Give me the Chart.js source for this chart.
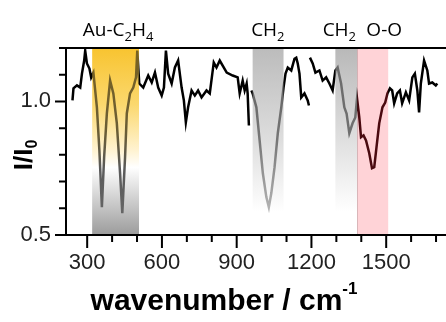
<!DOCTYPE html>
<html>
<head>
<meta charset="utf-8">
<script src="https://cdn.jsdelivr.net/npm/chart.js@4"></script>
<style>
    html, body { margin: 0; padding: 0; background: #fff; }
    #wrap { width: 446px; height: 322px; position: relative; }
</style>
</head>
<body>
<div id="wrap"><canvas id="spectrum"></canvas></div>
<script>
// ============================================
// DATA
// ============================================

const wavenumber = [241, 245, 259, 272, 279, 288, 292, 299, 309, 316, 325, 339, 349, 359, 368, 379, 392, 405, 419, 432, 441, 452, 459, 472, 485, 496, 501, 509, 525, 545, 559, 572, 585, 599, 608, 616, 625, 639, 652, 665, 679, 688, 696, 705, 719, 732, 745, 759, 779, 792, 808, 819, 832, 860, 884, 904, 912, 924, 932, 940, 944, 949, 952, 959, 964, 979, 992, 1005, 1019, 1029, 1039, 1052, 1065, 1079, 1088, 1096, 1105, 1119, 1132, 1139, 1145, 1152, 1159, 1172, 1185, 1190, 1192, 1194, 1205, 1216, 1232, 1245, 1259, 1272, 1285, 1296, 1305, 1319, 1332, 1341, 1352, 1365, 1376, 1383, 1392, 1399, 1409, 1419, 1432, 1443, 1452, 1461, 1472, 1485, 1496, 1505, 1515, 1524, 1532, 1544, 1555, 1564, 1579, 1592, 1605, 1615, 1625, 1632, 1639, 1652, 1665, 1672, 1685, 1699, 1705];

const intensity = [1.004, 1.049, 1.060, 1.052, 1.104, 1.153, 1.190, 1.142, 1.123, 1.090, 1.108, 0.978, 0.817, 0.604, 0.791, 0.955, 1.078, 1.030, 0.918, 0.731, 0.582, 0.791, 0.955, 1.030, 1.052, 1.090, 1.190, 1.067, 1.052, 1.097, 1.071, 1.108, 1.052, 1.022, 1.052, 1.190, 1.104, 1.067, 1.127, 1.153, 1.052, 1.004, 0.922, 0.978, 1.041, 1.022, 1.041, 1.015, 1.041, 1.030, 1.146, 1.127, 1.153, 1.108, 1.097, 1.090, 1.030, 1.078, 1.041, 1.067, 1.030, 0.910, null, 1.041, 1.030, 0.978, 0.854, 0.731, 0.642, 0.604, 0.657, 0.754, 0.881, 0.978, 1.052, 1.104, 1.127, 1.116, 1.160, 1.164, 1.142, 1.104, 1.015, 1.030, 1.004, 0.985, null, 1.164, 1.142, 1.108, 1.116, 1.078, 1.090, 1.067, 1.041, 1.116, 1.127, 1.067, 0.978, 0.955, 0.881, 0.918, 0.940, 1.011, 0.940, 0.866, 0.873, 0.854, 0.806, 0.750, 0.754, 0.828, 0.918, 0.978, 0.996, 1.030, 1.049, 1.041, 0.993, 1.030, 1.041, 0.993, 1.034, 1.004, 1.090, 1.104, 1.041, 0.959, 1.067, 1.153, 1.116, 1.067, 1.071, 1.060, 1.067];

// shaded regions (cm-1)
const bandStart = [320, 964, 1296, 1384];
const bandEnd = [508, 1088, 1384, 1508];

// assignment labels above the frame
const labelMain = ['Au-C', 'CH', 'CH', 'O-O'];
const labelSubs = [['2', 'H', '4'], ['2'], ['2'], []];
const labelAt = [424, 1025, 1312, 1492];

const xMin = 215, xMax = 1740;
const yMin = 0.5, yMax = 1.2;
const xTicks = [300, 400, 500, 600, 700, 800, 900, 1000, 1100, 1200, 1300, 1400, 1500, 1600, 1700];
const yTicks = [0.5, 0.6, 0.7, 0.8, 0.9, 1.0, 1.1, 1.2];
const xLabelled = [300, 600, 900, 1200, 1500];
const yLabelled = [0.5, 1.0];

// ============================================
// STYLES
// ============================================

const FONT = '"Liberation Sans", Arial, sans-serif';
const LABEL_FONT = '"Open Sans", sans-serif';

// fill behind the trace, and tint applied to the trace inside each band
const BAND_FILL = [
    [[0, '#f8c431'], [0.3, '#fbd86e'], [0.55, '#fff3d2'], [0.64, '#ffffff'], [0.7, '#eeeeee'], [1, '#9d9d9d']],
    [[0, '#bcbcbc'], [0.5, '#dedede'], [0.88, '#ffffff'], [1, '#ffffff']],
    [[0, '#b9b9b9'], [0.5, '#e0e0e0'], [0.88, '#ffffff'], [1, '#ffffff']],
    [[0, '#ffd3d7'], [1, '#ffd3d7']]
];
const BAND_LINE = [
    [[0, '#7a6320'], [0.45, '#6a5d35'], [0.65, '#5a5a5a'], [1, '#6a6a6a']],
    [[0, '#5a5a5a'], [0.5, '#777777'], [0.85, '#b0b0b0'], [1, '#c0c0c0']],
    [[0, '#6a6a6a'], [0.5, '#707070'], [1, '#909090']],
    [[0, '#4a0a10'], [1, '#4a0a10']]
];

function makeGradient(ctx, top, bottom, stops) {
    const g = ctx.createLinearGradient(0, top, 0, bottom);
    stops.forEach(s => g.addColorStop(s[0], s[1]));
    return g;
}

const near = (v, list) => list.some(t => Math.abs(v - t) < 1e-6);

// ============================================
// PLUGINS
// ============================================

const bandPlugin = {
    id: 'bands',
    afterDatasetsDraw(chart) {
        const { ctx, chartArea, scales } = chart;
        const top = chartArea.top + 1;
        const bottom = chartArea.bottom - 1;
        bandStart.forEach((start, i) => {
            const x0 = scales.x.getPixelForValue(start);
            const x1 = scales.x.getPixelForValue(bandEnd[i]);
            ctx.save();
            // recolour the trace where it runs through the band
            ctx.globalCompositeOperation = 'source-atop';
            ctx.fillStyle = makeGradient(ctx, top, bottom, BAND_LINE[i]);
            ctx.fillRect(x0, top, x1 - x0, bottom - top);
            // band fill goes underneath
            ctx.globalCompositeOperation = 'destination-over';
            ctx.fillStyle = makeGradient(ctx, top, bottom, BAND_FILL[i]);
            ctx.fillRect(x0, top, x1 - x0, bottom - top);
            ctx.restore();
        });
    }
};

const framePlugin = {
    id: 'frame',
    afterDraw(chart) {
        const { ctx, chartArea, scales } = chart;
        const { left, top, bottom } = chartArea;
        const right = chart.width;
        ctx.save();
        ctx.strokeStyle = '#000';
        ctx.lineWidth = 2;
        ctx.beginPath();
        ctx.moveTo(left - 6, top); ctx.lineTo(right, top);
        ctx.moveTo(left, top); ctx.lineTo(left, bottom);
        ctx.moveTo(left - 11, bottom); ctx.lineTo(right, bottom);
        // y ticks
        scales.y.ticks.forEach(t => {
            const y = scales.y.getPixelForValue(t.value);
            const len = near(t.value, yLabelled) ? 11 : 7;
            ctx.moveTo(left - len, y); ctx.lineTo(left, y);
        });
        // x ticks
        scales.x.ticks.forEach(t => {
            const x = scales.x.getPixelForValue(t.value);
            const len = near(t.value, xLabelled) ? 13 : 7;
            ctx.moveTo(x, bottom); ctx.lineTo(x, bottom + len);
        });
        ctx.stroke();

        // axis titles
        ctx.fillStyle = '#000';
        ctx.textBaseline = 'alphabetic';
        ctx.textAlign = 'left';
        const main = 'wavenumber / cm';
        ctx.font = 'bold 17px ' + FONT;
        const supW = ctx.measureText('-1').width;
        ctx.font = 'bold 30px ' + FONT;
        const mainW = ctx.measureText(main).width;
        const x = 224 - (mainW + supW) / 2;
        ctx.fillText(main, x, 310);
        ctx.font = 'bold 17px ' + FONT;
        ctx.fillText('-1', x + mainW, 294);

        ctx.save();
        ctx.translate(32, 155);
        ctx.rotate(-Math.PI / 2);
        ctx.font = 'bold 26px ' + FONT;
        const yMain = 'I/I';
        const yMainW = ctx.measureText(yMain).width;
        ctx.font = 'bold 16px ' + FONT;
        const yZeroW = ctx.measureText('0').width;
        ctx.font = 'bold 26px ' + FONT;
        ctx.fillText(yMain, -(yMainW + yZeroW) / 2, 0);
        ctx.font = 'bold 16px ' + FONT;
        ctx.fillText('0', -(yMainW + yZeroW) / 2 + yMainW, 5);
        ctx.restore();

        // band labels with subscripts
        labelMain.forEach((txt, i) => {
            const parts = [[txt, false]];
            labelSubs[i].forEach((s, k) => parts.push([s, k % 2 === 0]));
            const widths = parts.map(p => {
                ctx.font = (p[1] ? '13px ' : '19px ') + LABEL_FONT;
                return ctx.measureText(p[0]).width;
            });
            const total = widths.reduce((a, b) => a + b, 0);
            let px = scales.x.getPixelForValue(labelAt[i]) - total / 2;
            parts.forEach((p, k) => {
                ctx.font = (p[1] ? '13px ' : '19px ') + LABEL_FONT;
                ctx.fillText(p[0], px, p[1] ? 41 : 36);
                px += widths[k];
            });
        });
        ctx.restore();
    }
};

// ============================================
// CHART
// ============================================

function renderSpectrum() {
    const points = wavenumber.map((w, i) => ({ x: w, y: intensity[i] }));

    new Chart(document.getElementById('spectrum'), {
        type: 'line',
        data: {
            datasets: [{
                data: points,
                borderColor: '#000',
                borderWidth: 2.5,
                pointRadius: 0,
                tension: 0,
                spanGaps: false
            }]
        },
        options: {
            responsive: true,
            maintainAspectRatio: false,
            animation: false,
            layout: { padding: { top: 48, right: 0, left: 0, bottom: 0 } },
            plugins: { legend: { display: false }, tooltip: { enabled: false } },
            scales: {
                x: {
                    type: 'linear',
                    min: xMin,
                    max: xMax,
                    grid: { display: false, drawTicks: false },
                    border: { display: false },
                    afterBuildTicks: s => { s.ticks = xTicks.map(v => ({ value: v })); },
                    afterFit: s => { s.height = 87; s.paddingRight = 0; s.paddingLeft = 0; },
                    ticks: {
                        autoSkip: false,
                        maxRotation: 0,
                        padding: 15,
                        color: '#222',
                        font: { family: FONT, size: 22 },
                        callback: v => near(v, xLabelled) ? String(v) : ''
                    }
                },
                y: {
                    min: yMin,
                    max: yMax,
                    grid: { display: false, drawTicks: false },
                    border: { display: false },
                    afterBuildTicks: s => { s.ticks = yTicks.map(v => ({ value: v })); },
                    afterFit: s => { s.width = 66; s.paddingTop = 0; s.paddingBottom = 0; },
                    ticks: {
                        autoSkip: false,
                        padding: 15,
                        color: '#222',
                        font: { family: FONT, size: 22 },
                        callback: v => near(v, yLabelled) ? v.toFixed(1) : ''
                    }
                }
            }
        },
        plugins: [bandPlugin, framePlugin]
    });
}

renderSpectrum();
</script>
</body>
</html>
